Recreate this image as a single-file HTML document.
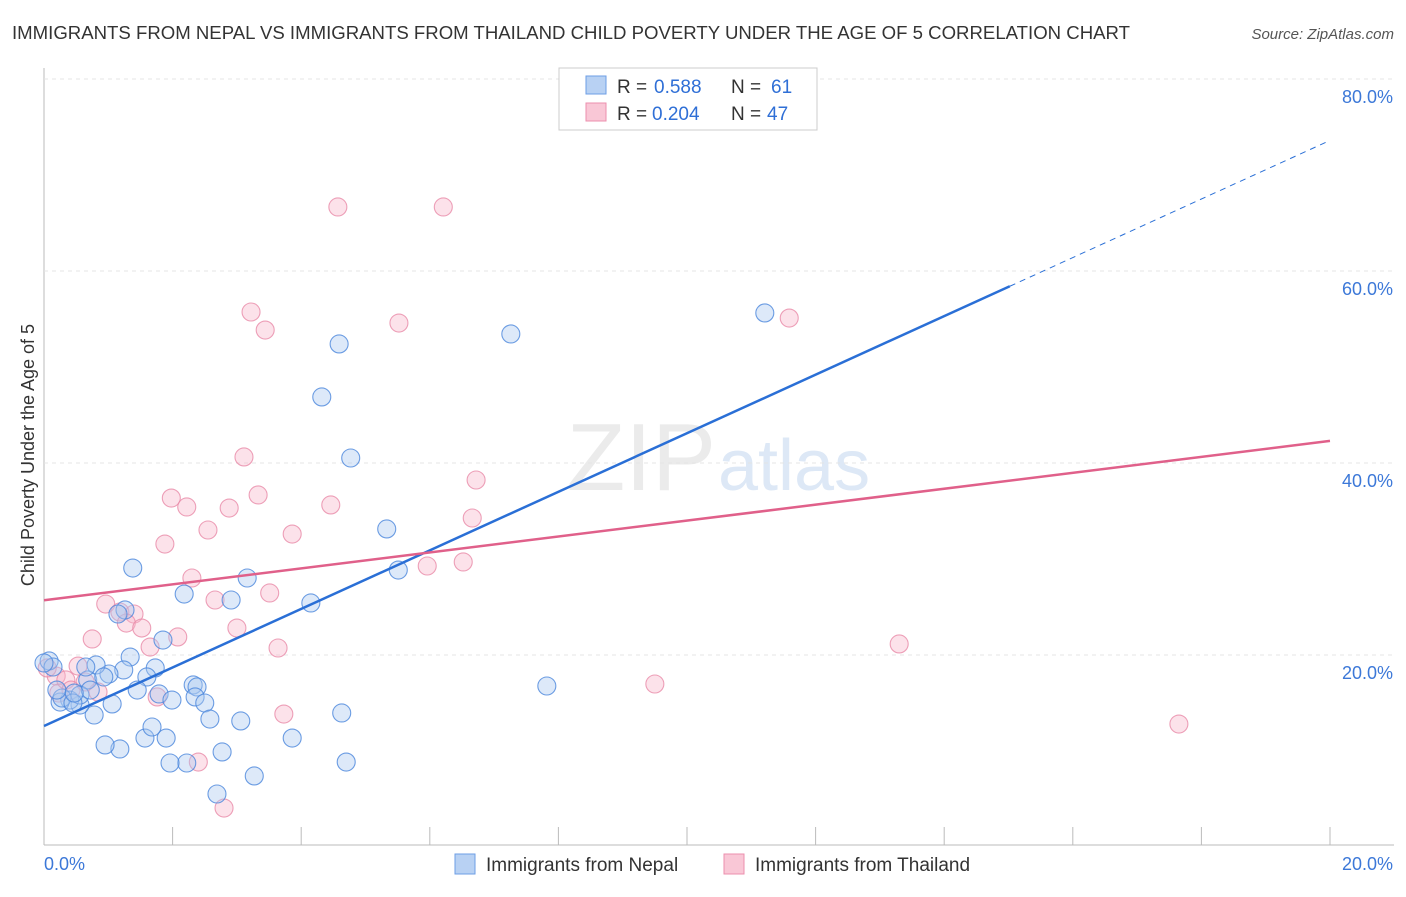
<!DOCTYPE html>
<html><head><meta charset="utf-8"><style>
body{margin:0;background:#fff;font-family:"Liberation Sans",sans-serif;}
svg text{font-family:"Liberation Sans",sans-serif;}
</style></head><body>
<svg id="c" width="1406" height="892" xmlns="http://www.w3.org/2000/svg">
<text x="12" y="39" font-size="18" fill="#333" textLength="1118" lengthAdjust="spacingAndGlyphs">IMMIGRANTS FROM NEPAL VS IMMIGRANTS FROM THAILAND CHILD POVERTY UNDER THE AGE OF 5 CORRELATION CHART</text>
<text x="1394" y="39" font-size="15" fill="#555" font-style="italic" text-anchor="end">Source: ZipAtlas.com</text>
<text x="34" y="455" font-size="18" fill="#333" text-anchor="middle" transform="rotate(-90 34 455)">Child Poverty Under the Age of 5</text>
<text x="716" y="490" font-size="96" fill="#ebebeb" text-anchor="end" font-family="Liberation Serif">ZIP</text>
<text x="718" y="490" font-size="72" fill="#dde8f6">atlas</text>
<g id="grid"></g><g id="pts"></g><g id="lines"></g>
<g>
<rect x="559" y="68" width="258" height="62" fill="#fff" stroke="#ccc"/>
<rect x="586" y="76" width="20" height="18" fill="#b8d1f3" stroke="#6d9ee6"/>
<text x="617" y="93" font-size="19" fill="#333">R =</text><text x="654" y="93" font-size="19" fill="#2f6fd6">0.588</text>
<text x="731" y="93" font-size="19" fill="#333">N =</text><text x="771" y="93" font-size="19" fill="#2f6fd6">61</text>
<rect x="586" y="103" width="20" height="18" fill="#f9c7d6" stroke="#ec8fae"/>
<text x="617" y="120" font-size="19" fill="#333">R =</text><text x="652" y="120" font-size="19" fill="#2f6fd6">0.204</text>
<text x="731" y="120" font-size="19" fill="#333">N =</text><text x="767" y="120" font-size="19" fill="#2f6fd6">47</text>
</g>
<g>
<rect x="455" y="854" width="20" height="20" fill="#b8d1f3" stroke="#6d9ee6"/>
<text x="486" y="871" font-size="19" fill="#333">Immigrants from Nepal</text>
<rect x="724" y="854" width="20" height="20" fill="#f9c7d6" stroke="#ec8fae"/>
<text x="755" y="871" font-size="19" fill="#333">Immigrants from Thailand</text>
</g>
</svg>
<script>
const xTicks=[0,2,4,6,8,10,12,14,16,18,20];
const yTicks=[20,40,60,80];
const nepalPx=[[133,568],[184,594],[231,600],[247,578],[311,603],[322,397],[339,344],[351,458],[387,529],[398,570],[511,334],[547,686],[765,313],[130,657],[163,640],[155,668],[147,677],[124,670],[109,674],[96,665],[88,680],[137,690],[159,694],[172,700],[193,685],[197,687],[195,697],[205,703],[210,719],[241,721],[292,738],[342,713],[346,762],[254,776],[217,794],[222,752],[187,763],[170,763],[166,738],[145,738],[152,727],[120,749],[105,745],[94,715],[112,704],[80,705],[70,700],[60,702],[62,698],[49,661],[53,667],[57,690],[80,695],[73,703],[104,677],[125,610],[118,614],[86,667],[90,690],[74,693],[44,663]];
const thaiPx=[[338,207],[443,207],[251,312],[265,330],[399,323],[789,318],[244,457],[171,498],[187,507],[229,508],[258,495],[208,530],[165,544],[331,505],[476,480],[472,518],[292,534],[463,562],[427,566],[192,578],[215,600],[270,593],[106,604],[120,612],[134,614],[126,623],[142,628],[237,628],[178,637],[92,639],[150,647],[278,648],[899,644],[655,684],[1179,724],[284,714],[198,762],[224,808],[157,697],[98,692],[78,666],[56,676],[59,693],[66,680],[47,668],[71,690],[85,682]];
const nepalX=nepalPx.map(p=>+((p[0]-44)/1286*20).toFixed(2));
const nepalY=nepalPx.map(p=>+((847-p[1])/9.6).toFixed(2));
const thaiX=thaiPx.map(p=>+((p[0]-44)/1286*20).toFixed(2));
const thaiY=thaiPx.map(p=>+((847-p[1])/9.6).toFixed(2));
const nepalTrend=[12.6,73.6];
const thaiTrend=[25.7,42.3];
const sx=v=>44+v/20*1286, sy=v=>847-v*9.6;
const NS="http://www.w3.org/2000/svg";
function mk(t,a,p){const e=document.createElementNS(NS,t);for(const k in a)e.setAttribute(k,a[k]);p.appendChild(e);return e;}
const g=document.getElementById('grid');
const ax=mk('line',{x1:44,y1:68,x2:44,y2:845,stroke:'#bbb'},g);


const bx=mk('line',{x1:44,y1:845,x2:1394,y2:845,stroke:'#bbb'},g);


yTicks.forEach(v=>{
 const l=mk('line',{x1:44,x2:1394,y1:sy(v),y2:sy(v),stroke:'#e4e4e4','stroke-dasharray':'4,4'},g);
 
 
 const t=mk('text',{x:1393,y:sy(v)+24,'font-size':18,fill:'#3c78d8','text-anchor':'end'},g);t.textContent=v.toFixed(1)+'%';
 
 
});
xTicks.forEach(v=>{
 const l=mk('line',{x1:sx(v),x2:sx(v),y1:827,y2:845,stroke:'#bbb'},g);
 
 
});
[[0,'start',44],[20,'end',1393]].forEach(([v,a,x])=>{
 const t=mk('text',{x:x,y:870,'font-size':18,fill:'#3c78d8','text-anchor':a},g);t.textContent=v.toFixed(1)+'%';
 
 
});
const P=document.getElementById('pts');
function dots(X,Y,f,s,name){X.forEach((x,i)=>{const c=mk('circle',{cx:sx(x),cy:sy(Y[i]),r:9,fill:f,'fill-opacity':0.4,stroke:s,'stroke-opacity':0.8,'stroke-width':1.1},P);
 
 });}
dots(thaiX,thaiY,'#f7b6ca','#e98aa8','point-thailand');
dots(nepalX,nepalY,'#a9c8f0','#4a86dc','point-nepal');
const L=document.getElementById('lines');
const xb=15.02, yb=nepalTrend[0]+(nepalTrend[1]-nepalTrend[0])*xb/20;
const b1=mk('line',{x1:sx(0),y1:sy(nepalTrend[0]),x2:sx(xb),y2:sy(yb),stroke:'#2a6fd6','stroke-width':2.5},L);


const b2=mk('line',{x1:sx(xb),y1:sy(yb),x2:sx(20),y2:sy(nepalTrend[1]),stroke:'#2a6fd6','stroke-width':1,'stroke-dasharray':'6,5'},L);


const p1=mk('line',{x1:sx(0),y1:sy(thaiTrend[0]),x2:sx(20),y2:sy(thaiTrend[1]),stroke:'#e0608a','stroke-width':2.5},L);


</script>
</body></html>
